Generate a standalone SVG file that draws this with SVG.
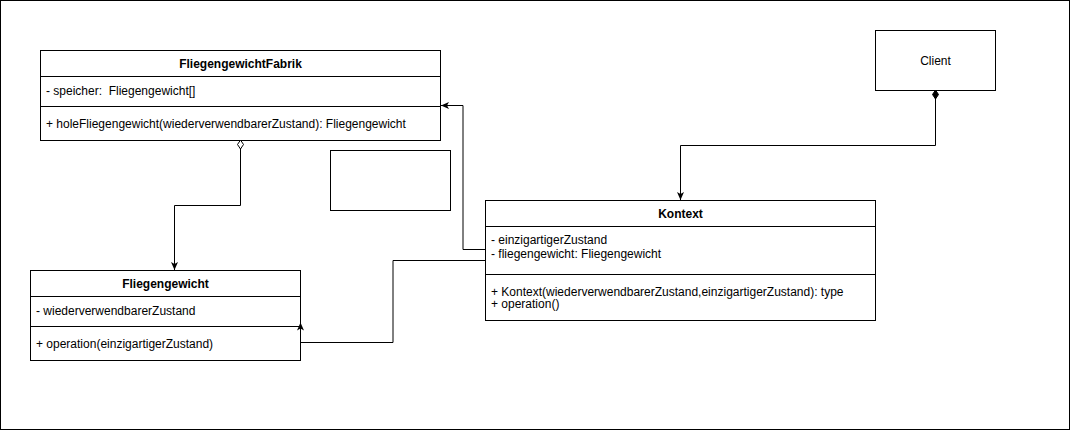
<svg xmlns="http://www.w3.org/2000/svg" width="1071" height="431" viewBox="0 0 1071 431">
<style>
text { font-family: "Liberation Sans", Arial, sans-serif; font-size: 12px; fill: #000; }
.title { font-weight: bold; text-anchor: middle; }
.center { text-anchor: middle; }
.box { fill: #fff; stroke: #000; stroke-width: 1; }
.div { stroke: #000; stroke-width: 1; fill: none; }
.edge { fill: none; stroke: #000; stroke-width: 1; }
</style>
<defs>
<marker id="arrow" markerUnits="userSpaceOnUse" viewBox="0 0 8 7" refX="8" refY="3.5" markerWidth="8" markerHeight="7" orient="auto">
<path d="M0,0 L8,3.5 L0,7 L2,3.5 z" fill="#000"/>
</marker>
<marker id="diamondOpen" markerUnits="userSpaceOnUse" viewBox="-1 -1 11 8" refX="0" refY="3" markerWidth="11" markerHeight="8" orient="auto">
<path d="M0,3 L4.5,0 L9,3 L4.5,6 z" fill="#fff" stroke="#000" stroke-width="1"/>
</marker>
<marker id="diamondFilled" markerUnits="userSpaceOnUse" viewBox="-1 -1 11 8" refX="0" refY="3" markerWidth="11" markerHeight="8" orient="auto">
<path d="M0,3 L4.5,0 L9,3 L4.5,6 z" fill="#000" stroke="#000" stroke-width="1"/>
</marker>
</defs>
<rect x="0" y="0" width="1071" height="431" fill="#fff"/>
<rect x="0.5" y="0.5" width="1069" height="429" fill="none" stroke="#000"/>

<g id="FliegengewichtFabrik">
<rect class="box" x="40.5" y="50.5" width="400" height="90"/>
<line class="div" x1="40.5" y1="76.5" x2="440.5" y2="76.5"/>
<line class="div" x1="40.5" y1="106.5" x2="440.5" y2="106.5"/>
<text class="title" x="240.5" y="67.5">FliegengewichtFabrik</text>
<text x="46" y="95" xml:space="preserve">- speicher:  Fliegengewicht[]</text>
<text x="46" y="128">+ holeFliegengewicht(wiederverwendbarerZustand): Fliegengewicht</text>
</g>

<g id="emptyBox">
<rect class="box" x="330.5" y="150.5" width="120" height="60"/>
</g>

<g id="Fliegengewicht">
<rect class="box" x="30.5" y="270.5" width="270" height="90"/>
<line class="div" x1="30.5" y1="296.5" x2="300.5" y2="296.5"/>
<line class="div" x1="30.5" y1="326.5" x2="300.5" y2="326.5"/>
<text class="title" x="165.5" y="288">Fliegengewicht</text>
<text x="36" y="314.5">- wiederverwendbarerZustand</text>
<text x="36" y="348">+ operation(einzigartigerZustand)</text>
</g>

<g id="Kontext">
<rect class="box" x="485.5" y="200.5" width="390" height="120"/>
<line class="div" x1="485.5" y1="226.5" x2="875.5" y2="226.5"/>
<line class="div" x1="485.5" y1="274.5" x2="875.5" y2="274.5"/>
<text class="title" x="680.5" y="218">Kontext</text>
<text x="491" y="244">- einzigartigerZustand</text>
<text x="491" y="258">- fliegengewicht: Fliegengewicht</text>
<text x="491" y="296">+ Kontext(wiederverwendbarerZustand,einzigartigerZustand): type</text>
<text x="491" y="308">+ operation()</text>
</g>

<g id="Client">
<rect class="box" x="875.5" y="30.5" width="120" height="60"/>
<text class="center" x="935.5" y="64.5">Client</text>
</g>

<g id="connectors">
<path class="edge" d="M240.5,140 V205.5 H174.5 V270" marker-start="url(#diamondOpen)" marker-end="url(#arrow)"/>
<path class="edge" d="M935.5,90 V145.5 H680.5 V200" marker-start="url(#diamondFilled)" marker-end="url(#arrow)"/>
<path class="edge" d="M485,249.5 H463 V105.5 H441" marker-end="url(#arrow)"/>
<path class="edge" d="M485,260.5 H393 V342.5 H300.5 V322.5" marker-end="url(#arrow)"/>
</g>
</svg>
